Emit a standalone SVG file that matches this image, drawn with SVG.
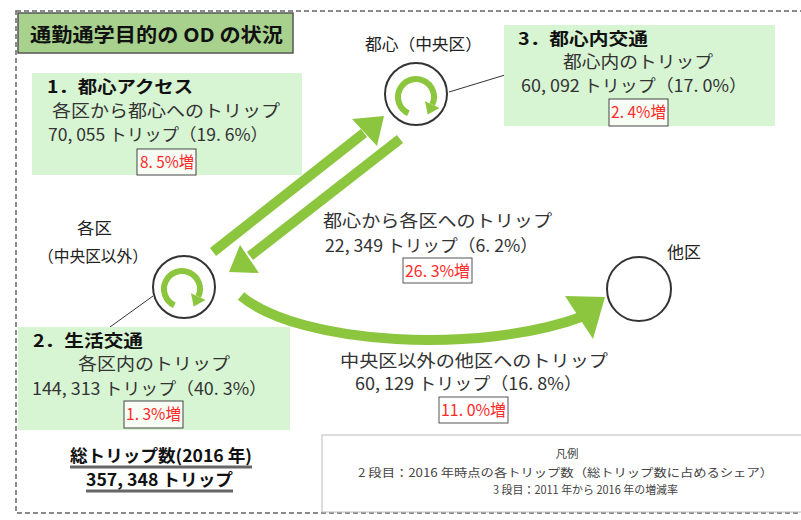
<svg xmlns="http://www.w3.org/2000/svg" xmlns:xlink="http://www.w3.org/1999/xlink" width="801" height="520" viewBox="0 0 801 520">
<style>
text{font-family:"Noto Sans CJK JP","Noto Sans",sans-serif;}
.t{font-size:17px;fill:#333;}
.h{font-size:17px;font-weight:bold;fill:#111;}
.red{font-size:16px;fill:#ff2a2a;}
.lab{font-size:16px;fill:#222;}
.leg{font-size:11.5px;fill:#444;}
.box{fill:#d8f5d3;}
.pct{fill:#f7fcf5;stroke:#444;stroke-width:1;}
.pctw{fill:#ffffff;stroke:#555;stroke-width:1;}
.node{fill:#fff;stroke:#333;stroke-width:2;}
.band{fill:none;stroke:#8cc63f;stroke-width:10;}
.head{fill:#8cc63f;}
.thin{stroke:#333;stroke-width:1;fill:none;}
</style>
<defs>
<g id="loop">
<path d="M -7.6 16.3 A 18 18 0 1 1 16.3 7.6" fill="none" stroke="#8cc63f" stroke-width="6"/>
<polygon points="23.5,11 9,4.2 11.7,17.6" fill="#8cc63f"/>
</g>
</defs>
<rect x="16" y="11" width="800" height="502" fill="none" stroke="#666" stroke-width="1.5" stroke-dasharray="5 3"/>
<g id="title">
<rect x="18" y="13" width="275" height="40" fill="#a9d18e" stroke="#555" stroke-width="1.5"/>
<text x="30" y="42" font-size="19" font-weight="bold" fill="#111" textLength="253" lengthAdjust="spacingAndGlyphs">通勤通学目的の OD の状況</text>
</g>
<g id="connectors">
<line class="thin" x1="449" y1="92" x2="505" y2="75"/>
<line class="thin" x1="153" y1="296" x2="110" y2="327"/>
<line class="band" x1="213" y1="252" x2="364" y2="133"/>
<polygon class="head" points="384,116 352,119 377,146"/>
<line class="band" x1="400" y1="139" x2="250" y2="256"/>
<polygon class="head" points="229,272 240,245 259,273"/>
<path class="band" stroke-width="13" d="M 241 296 C 300 345, 480 355, 584 316"/>
<polygon class="head" points="605,297 565,296 593,339"/>
</g>
<g id="node-toshin">
<circle class="node" cx="416" cy="94" r="31"/>
<use xlink:href="#loop" x="416" y="97"/>
<text class="lab" x="365" y="50" textLength="117" lengthAdjust="spacingAndGlyphs">都心（中央区）</text>
</g>
<g id="node-kakku">
<circle class="node" cx="184" cy="287" r="31"/>
<use xlink:href="#loop" x="182" y="289"/>
<text class="lab" x="77" y="234" textLength="35" lengthAdjust="spacingAndGlyphs">各区</text>
<text class="lab" x="38" y="262" textLength="110" lengthAdjust="spacingAndGlyphs">（中央区以外）</text>
</g>
<g id="node-takku">
<circle class="node" cx="639" cy="289" r="32"/>
<text class="lab" x="667" y="258" textLength="34" lengthAdjust="spacingAndGlyphs">他区</text>
</g>
<g id="box-access">
<rect class="box" x="32" y="73" width="270" height="102"/>
<text class="h" x="47" y="93" textLength="146" lengthAdjust="spacingAndGlyphs">1．都心アクセス</text>
<text class="t" x="52" y="117" textLength="228" lengthAdjust="spacingAndGlyphs">各区から都心へのトリップ</text>
<text class="t" x="48" y="141" textLength="220" lengthAdjust="spacingAndGlyphs">70, 055 トリップ（19. 6%）</text>
<rect class="pct" x="137" y="149" width="59" height="26"/>
<text class="red" x="140" y="168" textLength="54" lengthAdjust="spacingAndGlyphs">8. 5%増</text>
</g>
<g id="box-toshinnai">
<rect class="box" x="504" y="25" width="271" height="101"/>
<text class="h" x="518" y="45" textLength="130" lengthAdjust="spacingAndGlyphs">3．都心内交通</text>
<text class="t" x="563" y="68" textLength="150" lengthAdjust="spacingAndGlyphs">都心内のトリップ</text>
<text class="t" x="521" y="92" textLength="226" lengthAdjust="spacingAndGlyphs">60, 092 トリップ（17. 0%）</text>
<rect class="pct" x="609" y="99" width="59" height="27"/>
<text class="red" x="611" y="118" textLength="55" lengthAdjust="spacingAndGlyphs">2. 4%増</text>
</g>
<g id="box-seikatsu">
<rect class="box" x="18" y="327" width="272" height="103"/>
<text class="h" x="33" y="347" textLength="110" lengthAdjust="spacingAndGlyphs">2．生活交通</text>
<text class="t" x="78" y="370" textLength="152" lengthAdjust="spacingAndGlyphs">各区内のトリップ</text>
<text class="t" x="32" y="395" textLength="235" lengthAdjust="spacingAndGlyphs">144, 313 トリップ（40. 3%）</text>
<rect class="pct" x="124" y="401" width="59" height="27"/>
<text class="red" x="126" y="420" textLength="55" lengthAdjust="spacingAndGlyphs">1. 3%増</text>
</g>
<g id="label-toshin-kakku">
<text class="t" x="323" y="227" textLength="229" lengthAdjust="spacingAndGlyphs">都心から各区へのトリップ</text>
<text class="t" x="325" y="252" textLength="213" lengthAdjust="spacingAndGlyphs">22, 349 トリップ（6. 2%）</text>
<rect class="pctw" x="403" y="258" width="69" height="25"/>
<text class="red" x="405" y="277" textLength="65" lengthAdjust="spacingAndGlyphs">26. 3%増</text>
</g>
<g id="label-takku">
<text class="t" x="340" y="367" textLength="268" lengthAdjust="spacingAndGlyphs">中央区以外の他区へのトリップ</text>
<text class="t" x="355" y="390" textLength="227" lengthAdjust="spacingAndGlyphs">60, 129 トリップ（16. 8%）</text>
<rect class="pctw" x="439" y="397" width="69" height="26"/>
<text class="red" x="441" y="416" textLength="65" lengthAdjust="spacingAndGlyphs">11. 0%増</text>
</g>
<g id="total">
<text class="h" x="70" y="462" textLength="182" lengthAdjust="spacingAndGlyphs">総トリップ数(2016 年)</text>
<line x1="70" y1="467" x2="252" y2="467" stroke="#666" stroke-width="3"/>
<text class="h" x="86" y="486" textLength="147" lengthAdjust="spacingAndGlyphs">357, 348 トリップ</text>
<line x1="86" y1="491" x2="233" y2="491" stroke="#666" stroke-width="3"/>
</g>
<g id="legend">
<rect x="322" y="435" width="490" height="77" fill="#fff" stroke="#bbb" stroke-width="1"/>
<text class="leg" x="567" y="458" text-anchor="middle">凡例</text>
<text class="leg" x="358" y="477" textLength="415" lengthAdjust="spacingAndGlyphs">2 段目：2016 年時点の各トリップ数（総トリップ数に占めるシェア）</text>
<text class="leg" x="493" y="494" textLength="185" lengthAdjust="spacingAndGlyphs">3 段目：2011 年から 2016 年の増減率</text>
</g>
</svg>
